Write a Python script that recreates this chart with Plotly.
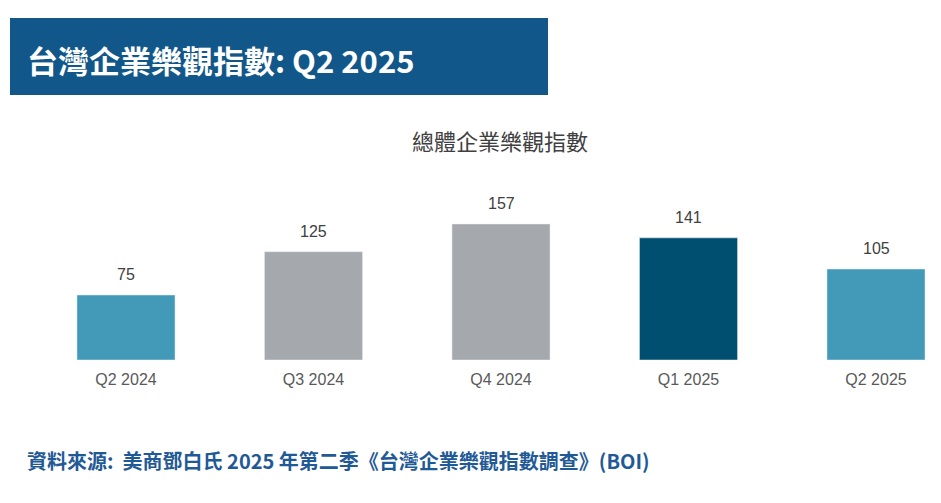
import plotly.graph_objects as go

categories = ["Q2 2024", "Q3 2024", "Q4 2024", "Q1 2025", "Q2 2025"]
values = [75, 125, 157, 141, 105]
colors = ["#4399b8", "#a5a9ad", "#a5a9ad", "#004f71", "#4399b8"]

W, H = 941, 503
OFF = 8
top, bot = 180 - OFF, 360 - OFF
def py(p): return (bot - (p - OFF)) / (bot - top)
def px(p): return (p - OFF) / W

x0 = -(126 - OFF) / 187.5
fig = go.Figure(go.Bar(
    x=list(range(len(categories))), y=values, marker_color=colors, width=0.523,
))
for i, v in enumerate(values):
    fig.add_annotation(x=i, y=v, text=str(v), showarrow=False, yanchor="bottom", yshift=10,
                       font=dict(size=16, color="#404040", family="Liberation Sans"))
fig.update_layout(
    width=W, height=H, margin=dict(l=0, r=0, t=top, b=H - bot),
    plot_bgcolor="white", paper_bgcolor="white", showlegend=False,
    xaxis=dict(range=[x0, x0 + W / 187.5], tickvals=list(range(len(categories))), ticktext=categories,
               showgrid=False, zeroline=False, showline=False, ticklabelstandoff=8,
               tickfont=dict(size=16, color="#595959", family="Liberation Sans")),
    yaxis=dict(range=[0, 207.8], visible=False),
    shapes=[dict(type="rect", xref="paper", yref="paper", x0=px(10), x1=px(548),
                 y0=py(95), y1=py(18), fillcolor="#12578a", line_width=0, layer="below")],
)
fig.add_annotation(text="<b>台灣企業樂觀指數: Q2 2025</b>", xref="paper", yref="paper", x=px(25), y=py(60),
                   xanchor="left", yanchor="middle", showarrow=False,
                   font=dict(size=31, color="white", family="Noto Sans CJK TC"))
fig.add_annotation(text="總體企業樂觀指數", xref="paper", yref="paper", x=px(500), y=py(140),
                   xanchor="center", yanchor="middle", showarrow=False,
                   font=dict(size=22, color="#404040", family="Noto Sans CJK TC"))
fig.add_annotation(text="<b>資料來源:  美商鄧白氏 2025 年第二季《台灣企業樂觀指數調查》(BOI)</b>",
                   xref="paper", yref="paper", x=px(25), y=py(460), xanchor="left", yanchor="middle",
                   showarrow=False, font=dict(size=20, color="#1f5a96", family="Noto Sans CJK TC"))
fig.write_html("out.html")
